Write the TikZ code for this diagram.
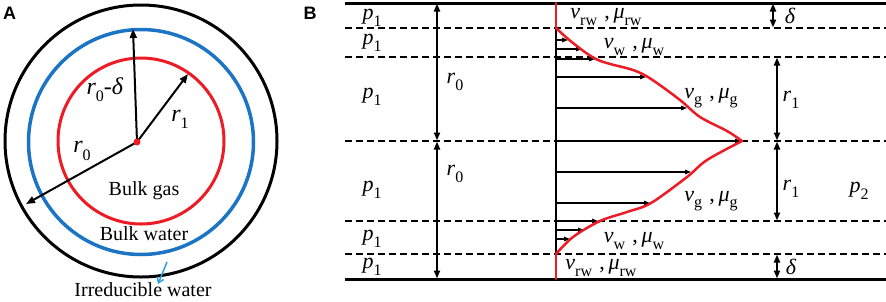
\documentclass[tikz,border=0pt]{standalone}
\usepackage{fontspec}
\setmainfont{Liberation Serif}
\newfontfamily\headfont{Liberation Sans}
\usetikzlibrary{arrows.meta}
\definecolor{cred}{RGB}{237,28,36}
\definecolor{cblue}{RGB}{28,117,196}
\definecolor{lblue}{RGB}{45,160,220}
\newcommand\mysub[2]{\raisebox{-0.3em}{\fontsize{#1}{#1}\selectfont #2}}
\newcommand\bsub[1]{\mysub{16}{#1}}
\newcommand\asub[1]{\mysub{16}{#1}}
\newcommand\vm[1]{\textit{v}\bsub{#1}\,\,,\,\textit{μ}\bsub{#1}}
\begin{document}
\begin{tikzpicture}[x=1pt,y=-1pt,
  head/.style={font=\headfont\bfseries\fontsize{18}{18}\selectfont, inner sep=0pt},
  atext/.style={font=\fontsize{20}{20}\selectfont, inner sep=0pt},
  amath/.style={font=\fontsize{24}{24}\selectfont, inner sep=0pt},
  bmath/.style={font=\fontsize{22}{22}\selectfont, inner sep=0pt},
  radarrow/.style={line width=2pt, -{Triangle[length=9pt,width=7pt]}},
  dimarrow/.style={line width=2pt, {Triangle[length=8pt,width=6pt]}-{Triangle[length=8pt,width=6pt]}, shorten <=0.5pt, shorten >=0.5pt},
  velarrow/.style={line width=1.2pt, -{Triangle[length=6pt,width=4.5pt]}},
  solidline/.style={line width=3pt},
  dashline/.style={line width=2.5pt, dash pattern=on 7pt off 4pt},
  profile/.style={cred, line width=2.5pt, line cap=round, line join=round}
]
\useasboundingbox (0,0) rectangle (886,301);

% ---------------- Panel A ----------------
\node[head] (hA) at (9.5,13) {A};
\draw[line width=3pt] (141,141) circle[radius=136pt];
\draw[cblue, line width=3.5pt] (141,142) circle[radius=112.5pt];
\draw[cred, line width=3pt] (141,141) circle[radius=83pt];

\coordinate (ctr) at (137,142);
\coordinate (tipRd) at (133,29);
\coordinate (tipR1) at (188,74);
\coordinate (tipR0) at (26,204);
\draw[radarrow] (ctr) -- (tipRd);
\draw[radarrow] (ctr) -- (tipR1);
\draw[radarrow] (ctr) -- (tipR0);
\fill[cred] (ctr) circle[radius=3.5pt];

\node[amath] (lRd) at (105,90) {\textit{r}\asub{0}-\textit{δ}};
\node[amath] (lR1) at (180,119) {\textit{r}\asub{1}};
\node[amath] (lR0) at (82,151) {\textit{r}\asub{0}};
\node[atext] (lgas) at (144,191) {Bulk gas};
\node[atext] (lwat) at (144,234) {Bulk water};
\node[atext, anchor=base] (lirr) at (143,296) {Irreducible water};
\coordinate (irrS) at (167,262);
\coordinate (irrE) at (158,284);
\draw[lblue, line width=1.5pt, -{Straight Barb[length=5pt,width=7pt]}] (irrS) -- (irrE);

% ---------------- Panel B ----------------
\node[head] (hB) at (310,13) {B};
\coordinate (L0) at (345,3);   \coordinate (R0) at (886,3);
\coordinate (L1) at (345,28);  \coordinate (R1) at (886,28);
\coordinate (L2) at (345,57);  \coordinate (R2) at (886,57);
\coordinate (L3) at (345,141); \coordinate (R3) at (886,141);
\coordinate (L4) at (345,221); \coordinate (R4) at (886,221);
\coordinate (L5) at (345,254); \coordinate (R5) at (886,254);
\coordinate (L6) at (345,279); \coordinate (R6) at (886,279);
\draw[solidline] (L0) -- (R0);
\draw[solidline] (L6) -- (R6);
\foreach \i in {1,...,5} {\draw[dashline] (L\i) -- (R\i);}

% axis
\coordinate (axT) at (556,3);
\coordinate (axB) at (556,279);
\draw[line width=2.5pt] (axT) -- (axB);

% dimension arrows
\draw[dimarrow] (437,3) -- (437,141);
\draw[dimarrow] (437,141) -- (437,279);
\draw[dimarrow] (777,57) -- (777,141);
\draw[dimarrow] (777,141) -- (777,221);
\draw[dimarrow] (773,3) -- (773,28);
\draw[dimarrow] (777,254) -- (777,279);

% velocity arrows
\foreach \y/\x in {40/568, 49/582, 59/595, 77/646, 108/687, 141/741, 172/691, 203/650, 221/598, 230/584, 239/570}
  {\draw[velarrow] (557,\y) -- (\x,\y);}

% profile
\draw[profile] (axT) -- (556,28);
\draw[profile] plot[smooth, tension=0.55] coordinates {(556,28) (573,43) (598,60) (633,70) (651,79) (680,100) (700,117) (727,131) (742,141)};
\draw[profile] plot[smooth, tension=0.55] coordinates {(742,141) (707,160) (687,177) (651,203) (627,212) (600,221) (573,237) (556,254)};
\draw[profile] (556,254) -- (axB);

% labels
\foreach \y [count=\k] in {18,43,97,190,239,267}
  {\node[bmath] (p\k) at (372,\y) {\textit{p}\bsub{1}};}
\node[bmath] (r0a) at (455,82) {\textit{r}\bsub{0}};
\node[bmath] (r0b) at (455,174) {\textit{r}\bsub{0}};
\node[bmath] (r1a) at (791,100) {\textit{r}\bsub{1}};
\node[bmath] (r1b) at (791,189) {\textit{r}\bsub{1}};
\node[bmath] (da) at (790,16) {\textit{δ}};
\node[bmath] (db) at (791,267) {\textit{δ}};
\node[bmath] (p2) at (859,191) {\textit{p}\bsub{2}};
\node[bmath] (vrwa) at (606,17) {\vm{rw}};
\node[bmath] (vwa) at (634,47) {\vm{w}};
\node[bmath] (vga) at (711,98) {\vm{g}};
\node[bmath] (vgb) at (711,201) {\vm{g}};
\node[bmath] (vwb) at (634,241) {\vm{w}};
\node[bmath] (vrwb) at (601,268) {\vm{rw}};
\end{tikzpicture}
\end{document}
